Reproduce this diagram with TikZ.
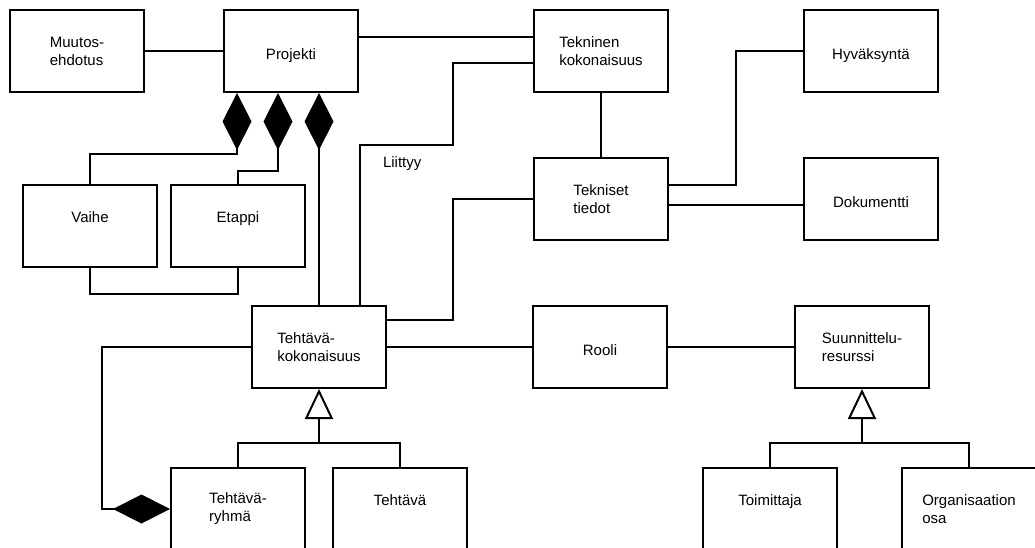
\documentclass[tikz,border=0pt]{standalone}
\usepackage{fontspec}
\setmainfont{Liberation Sans}
\usepackage{tikz}
\usetikzlibrary{arrows.meta}

\begin{document}
\begin{tikzpicture}[x=1pt, y=-1pt, line width=2pt,
		luokka/.style={draw, fill=white, align=left, inner sep=0pt,
			minimum width=134pt, minimum height=82pt},
		yksi/.style={text height=17pt, text depth=0pt},
		ylos/.style={text height=11pt, text depth=18pt},
		kooste/.style={{Diamond[length=57pt, width=29pt]}-},
		periytyy/.style={-{Triangle[open, length=30pt, width=28pt]}}
	]
			\fontsize{15pt}{18pt}\selectfont
			\useasboundingbox (0,0) rectangle (1035,547);
			\clip (0,0) rectangle (1035,547);

			\node[luokka] (muutos) at (77,51) {Muutos-\\ehdotus};
			\node[luokka, yksi] (projekti) at (291,51) {Projekti};
			\node[luokka] (tekninen) at (601,51) {Tekninen\\kokonaisuus};
			\node[luokka, yksi] (hyvaksynta) at (871,51) {Hyväksyntä};
			\node[luokka] (tiedot) at (601,199) {Tekniset\\tiedot};
			\node[luokka, yksi] (dokumentti) at (871,199) {Dokumentti};
			\node[luokka, ylos] (vaihe) at (90,226) {Vaihe};
			\node[luokka, ylos] (etappi) at (238,226) {Etappi};
			\node[luokka] (tkok) at (319,347) {Tehtävä-\\kokonaisuus};
			\node[luokka, yksi] (rooli) at (600,347) {Rooli};
			\node[luokka] (resurssi) at (862,347) {Suunnittelu-\\resurssi};
			\node[luokka] (ryhma) at (238,509) {Tehtävä-\\ryhmä};
			\node[luokka, ylos] (tehtava) at (400,509) {Tehtävä};
			\node[luokka, ylos] (toimittaja) at (770,509) {Toimittaja};
			\node[luokka] (organisaatio) at (969,509) {Organisaation\\osa};

			\coordinate (kanava) at (453,145);
			\coordinate (tkhaara) at ([yshift=-54]tkok.south);
			\coordinate (reshaara) at ([yshift=-54]resurssi.south);

			\draw (muutos) -- (projekti);
			\draw ([yshift=14]projekti.east) -- ([yshift=14]tekninen.west);
			\draw (tekninen) -- (tiedot);
			\draw ([yshift=14]tiedot.east) -- ++(67,0) |- (hyvaksynta.west);
			\draw ([yshift=-6]tiedot.east) -- ([yshift=-6]dokumentti.west);

			\draw[kooste] ([xshift=14]projekti.south west) |- ([yshift=30]vaihe.north) -- (vaihe.north);
			\draw[kooste] ([xshift=55]projekti.south west) |- ([yshift=13]etappi.north) -- (etappi.north);
			\draw[kooste] (tkok.north |- projekti.south) -- (tkok.north);
			\draw (vaihe.south) -- ([yshift=-26]vaihe.south) -| (etappi.south);

			\draw ([xshift=-27]tkok.north east) |- (kanava) |- ([yshift=-12]tekninen.west);
			\node[anchor=west, inner sep=0pt] (liittyy) at (382,164) {Liittyy};
			\draw (tiedot.west) -- (tiedot.west -| kanava) |- ([yshift=27]tkok.east);

			\draw (tkok) -- (rooli);
			\draw (rooli) -- (resurssi);
			\draw[kooste] (ryhma.west) -- ++(-68,0) |- (tkok.west);

			\draw (ryhma.north) |- (tkhaara) -| (tehtava.north);
			\draw[periytyy] (tkhaara) -- (tkok.south);
			\draw (toimittaja.north) |- (reshaara) -| (organisaatio.north);
			\draw[periytyy] (reshaara) -- (resurssi.south);
		\end{tikzpicture}
\end{document}
